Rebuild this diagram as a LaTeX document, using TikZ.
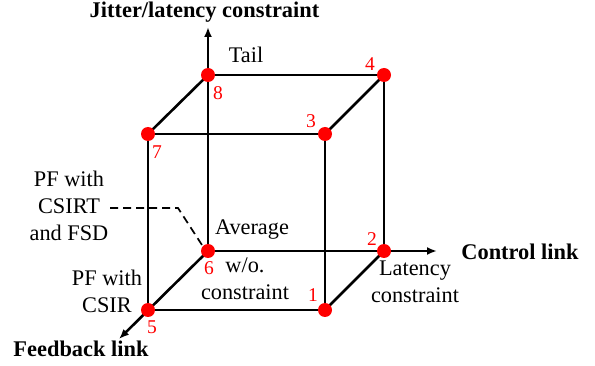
\documentclass[tikz,border=0pt]{standalone}
\usepackage{fontspec}
\setmainfont{Liberation Serif}
\usetikzlibrary{arrows.meta}
\tikzset{
  edge/.style={line width=2.6pt, line cap=round},
  axis/.style={line width=2.6pt, -{Latex[length=10pt,width=8pt]}},
  vdot/.style={circle, fill=red, inner sep=0pt, minimum size=14pt},
  num/.style={text=red, font=\fontsize{19.5}{22}\selectfont, inner sep=0pt},
  lab/.style={font=\fontsize{22.3}{27}\selectfont, inner sep=0pt, align=center},
  blab/.style={font=\fontsize{22.4}{27}\selectfont\bfseries, inner sep=0pt},
  guide/.style={line width=1.7pt, dash pattern=on 8pt off 5pt}
}
\begin{document}
\begin{tikzpicture}[x=1pt,y=-1pt]
\useasboundingbox (0,0) rectangle (595,366);
% cube vertices
\coordinate (c1) at (325,310);
\coordinate (c2) at (384,251);
\coordinate (c3) at (325,134);
\coordinate (c4) at (384,75);
\coordinate (c5) at (148,310);
\coordinate (c6) at (208,251);
\coordinate (c7) at (148,134);
\coordinate (c8) at (208,75);
\coordinate (zend) at (208,27);
\coordinate (xend) at (437,251);
\coordinate (yend) at (119,339);
\coordinate (g1) at (110,208);
\coordinate (g2) at (178,208);
\coordinate (g3) at (202,245);
% axes
\draw[axis] (c6) -- (zend);
\draw[axis] (c6) -- (xend);
\draw[axis] (c6) -- (yend);
% edges
\draw[edge] (c8) -- (c4);
\draw[edge] (c8) -- (c7);
\draw[edge] (c7) -- (c3);
\draw[edge] (c4) -- (c3);
\draw[edge] (c7) -- (c5);
\draw[edge] (c3) -- (c1);
\draw[edge] (c4) -- (c2);
\draw[edge] (c5) -- (c1);
\draw[edge] (c1) -- (c2);
% dashed guide
\draw[guide] (g1) -- (g2) -- (g3);
% dots
\foreach \i in {1,...,8} { \node[vdot] (d\i) at (c\i) {}; }
% numbers
\node[num] (n1) at (313,295) {1};
\node[num] (n2) at (372,239) {2};
\node[num] (n3) at (311,121) {3};
\node[num] (n4) at (370,64) {4};
\node[num] (n5) at (152,327) {5};
\node[num] (n6) at (209,268) {6};
\node[num] (n7) at (157,152) {7};
\node[num] (n8) at (218,93) {8};
% labels
\node[blab, anchor=base] (title) at (204.5,18) {Jitter/latency constraint};
\node[blab, anchor=base] (ctrl) at (520,260) {Control link};
\node[blab, anchor=base] (fb) at (81,357) {Feedback link};
\node[lab, anchor=base] (tail) at (246,63) {Tail};
\node[lab, anchor=base] (avg) at (252,235) {Average};
\node[lab] (woc) at (245,279) {w/o.\\constraint};
\node[lab] (lat) at (415,281.5) {Latency\\constraint};
\node[lab] (pfc) at (107,291) {PF with\\CSIR};
\node[lab] (pff) at (69,205.5) {PF with\\CSIRT\\and FSD};
\end{tikzpicture}
\end{document}
